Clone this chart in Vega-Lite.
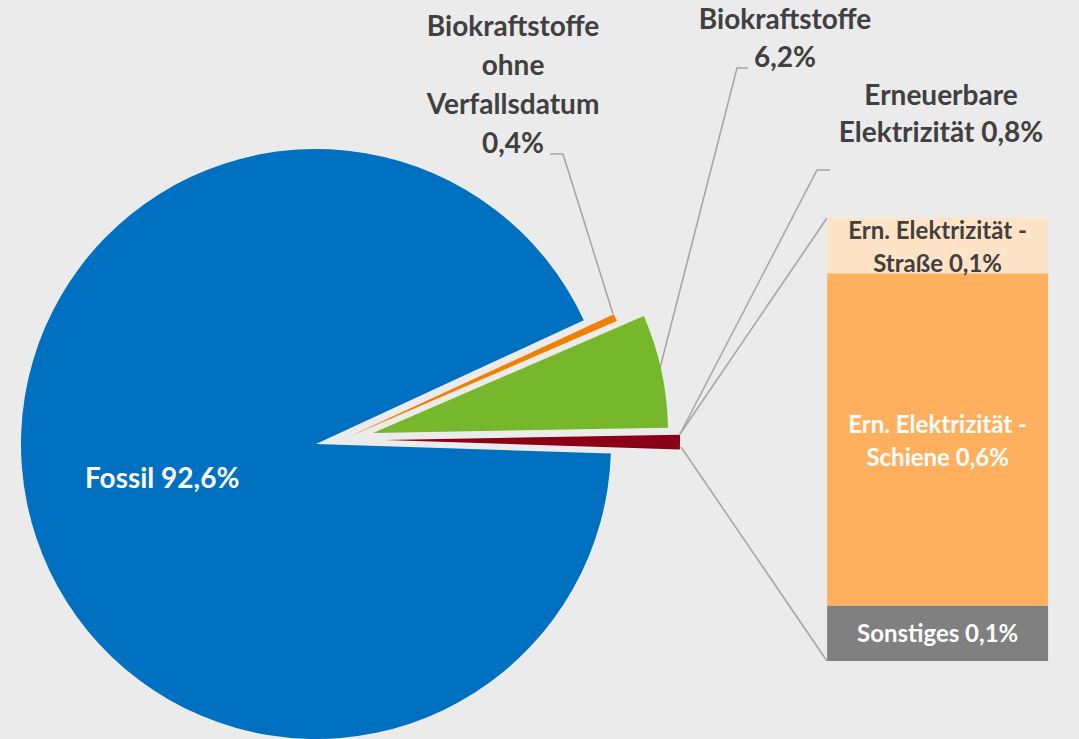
{
  "$schema": "https://vega.github.io/schema/vega-lite/v6.json",
  "width": 1079,
  "height": 739,
  "autosize": {"type": "none"},
  "padding": 0,
  "background": "#ebebeb",
  "config": {"view": {"stroke": null}, "font": "Lato"},
  "datasets": {
    "kuchen": [
      {"Kategorie": "Biokraftstoffe ohne Verfallsdatum", "Anteil": 0.4, "Reihenfolge": 1, "Beschriftung": "Biokraftstoffe\nohne\nVerfallsdatum\n0,4%"},
      {"Kategorie": "Biokraftstoffe", "Anteil": 6.2, "Reihenfolge": 2, "Beschriftung": "Biokraftstoffe\n6,2%"},
      {"Kategorie": "Erneuerbare Elektrizität", "Anteil": 0.8, "Reihenfolge": 3, "Beschriftung": "Erneuerbare\nElektrizität 0,8%"},
      {"Kategorie": "Fossil", "Anteil": 92.6, "Reihenfolge": 4, "Beschriftung": "Fossil 92,6%"}
    ],
    "balken": [
      {"Gruppe": "Erneuerbare Elektrizität", "Kategorie": "Sonstiges", "Anteil": 0.1, "Reihenfolge": 1, "Beschriftung": "Sonstiges 0,1%"},
      {"Gruppe": "Erneuerbare Elektrizität", "Kategorie": "Ern. Elektrizität - Schiene", "Anteil": 0.6, "Reihenfolge": 2, "Beschriftung": "Ern. Elektrizität -\nSchiene 0,6%"},
      {"Gruppe": "Erneuerbare Elektrizität", "Kategorie": "Ern. Elektrizität - Straße", "Anteil": 0.1, "Reihenfolge": 3, "Beschriftung": "Ern. Elektrizität -\nStraße 0,1%"}
    ],
    "hilfslinien": [
      {"Linie": "A", "Punkt": 1, "x": 550, "y": 154},
      {"Linie": "A", "Punkt": 2, "x": 563, "y": 154},
      {"Linie": "A", "Punkt": 3, "x": 613, "y": 314},
      {"Linie": "B", "Punkt": 1, "x": 748, "y": 68},
      {"Linie": "B", "Punkt": 2, "x": 737, "y": 68},
      {"Linie": "B", "Punkt": 3, "x": 660, "y": 368},
      {"Linie": "C", "Punkt": 1, "x": 830, "y": 170},
      {"Linie": "C", "Punkt": 2, "x": 817, "y": 170},
      {"Linie": "C", "Punkt": 3, "x": 680, "y": 434},
      {"Linie": "D", "Punkt": 1, "x": 680, "y": 434},
      {"Linie": "D", "Punkt": 2, "x": 827, "y": 218},
      {"Linie": "E", "Punkt": 1, "x": 681, "y": 447},
      {"Linie": "E", "Punkt": 2, "x": 827, "y": 661}
    ]
  },
  "resolve": {"scale": {"x": "independent", "y": "independent"}},
  "layer": [
    {
      "data": {"name": "hilfslinien"},
      "mark": {"type": "line", "color": "#a6a6a6", "strokeWidth": 1.6},
      "encoding": {
        "x": {"field": "x", "type": "quantitative", "axis": null, "scale": {"domain": [0, 1079], "nice": false, "zero": false}},
        "y": {"field": "y", "type": "quantitative", "axis": null, "scale": {"domain": [0, 739], "reverse": true, "nice": false, "zero": false}},
        "detail": {"field": "Linie", "type": "nominal"},
        "order": {"field": "Punkt", "type": "quantitative"}
      }
    },
    {
      "data": {"name": "kuchen"},
      "transform": [
        {"stack": "Anteil", "groupby": [], "sort": [{"field": "Reihenfolge", "order": "ascending"}], "as": ["a0", "a1"]},
        {"filter": "datum.Kategorie === 'Fossil'"}
      ],
      "mark": {"type": "arc", "outerRadius": 295, "xOffset": -223.5, "yOffset": 74.5},
      "encoding": {
        "theta": {"field": "a0", "type": "quantitative", "stack": null, "scale": {"domain": [0, 100], "range": [1.138, 7.4212]}},
        "theta2": {"field": "a1"},
        "color": {"field": "Kategorie", "type": "nominal", "legend": null, "scale": {"domain": ["Fossil", "Biokraftstoffe ohne Verfallsdatum", "Biokraftstoffe", "Erneuerbare Elektrizität", "Ern. Elektrizität - Straße", "Ern. Elektrizität - Schiene", "Sonstiges"], "range": ["#0070c0", "#f08000", "#77b72b", "#8b0016", "#ffe3c6", "#ffb05f", "#808080"]}}
      }
    },
    {
      "data": {"name": "kuchen"},
      "transform": [
        {"stack": "Anteil", "groupby": [], "sort": [{"field": "Reihenfolge", "order": "ascending"}], "as": ["a0", "a1"]},
        {"filter": "datum.Kategorie === 'Biokraftstoffe ohne Verfallsdatum'"}
      ],
      "mark": {"type": "arc", "outerRadius": 295, "xOffset": -193.5, "yOffset": 68.5},
      "encoding": {
        "theta": {"field": "a0", "type": "quantitative", "stack": null, "scale": {"domain": [0, 100], "range": [1.138, 7.4212]}},
        "theta2": {"field": "a1"},
        "color": {"field": "Kategorie", "type": "nominal", "legend": null}
      }
    },
    {
      "data": {"name": "kuchen"},
      "transform": [
        {"stack": "Anteil", "groupby": [], "sort": [{"field": "Reihenfolge", "order": "ascending"}], "as": ["a0", "a1"]},
        {"filter": "datum.Kategorie === 'Biokraftstoffe'"}
      ],
      "mark": {"type": "arc", "outerRadius": 295, "xOffset": -166.5, "yOffset": 63.5},
      "encoding": {
        "theta": {"field": "a0", "type": "quantitative", "stack": null, "scale": {"domain": [0, 100], "range": [1.138, 7.4212]}},
        "theta2": {"field": "a1"},
        "color": {"field": "Kategorie", "type": "nominal", "legend": null}
      }
    },
    {
      "data": {"name": "kuchen"},
      "transform": [
        {"stack": "Anteil", "groupby": [], "sort": [{"field": "Reihenfolge", "order": "ascending"}], "as": ["a0", "a1"]},
        {"filter": "datum.Kategorie === 'Erneuerbare Elektrizität'"}
      ],
      "mark": {"type": "arc", "outerRadius": 295, "xOffset": -154.5, "yOffset": 70.5},
      "encoding": {
        "theta": {"field": "a0", "type": "quantitative", "stack": null, "scale": {"domain": [0, 100], "range": [1.138, 7.4212]}},
        "theta2": {"field": "a1"},
        "color": {"field": "Kategorie", "type": "nominal", "legend": null}
      }
    },
    {
      "data": {"name": "kuchen"},
      "mark": {"type": "text", "radius": 157, "xOffset": -223.5, "yOffset": 74.5, "dy": 5, "fontSize": 28, "fontWeight": "bold", "font": "Lato", "color": "white", "lineBreak": "\n"},
      "encoding": {
        "theta": {"field": "Anteil", "type": "quantitative", "stack": true, "scale": {"domain": [0, 100], "range": [1.138, 7.4212]}},
        "order": {"field": "Reihenfolge", "type": "quantitative"},
        "text": {"condition": {"test": "datum.Kategorie === 'Fossil'", "field": "Beschriftung"}, "value": ""}
      }
    },
    {
      "data": {"name": "kuchen"},
      "mark": {"type": "text", "radius": 295, "xOffset": -193.5, "yOffset": 68.5, "dx": -102.3, "dy": -290, "fontSize": 28, "lineHeight": 39, "fontWeight": "bold", "font": "Lato", "color": "#404040", "lineBreak": "\n"},
      "encoding": {
        "theta": {"field": "Anteil", "type": "quantitative", "stack": true, "scale": {"domain": [0, 100], "range": [1.138, 7.4212]}},
        "order": {"field": "Reihenfolge", "type": "quantitative"},
        "text": {"condition": {"test": "datum.Kategorie === 'Biokraftstoffe ohne Verfallsdatum'", "field": "Beschriftung"}, "value": ""}
      }
    },
    {
      "data": {"name": "kuchen"},
      "mark": {"type": "text", "radius": 295, "xOffset": -166.5, "yOffset": 63.5, "dx": 123.7, "dy": -349.7, "fontSize": 28, "lineHeight": 38, "fontWeight": "bold", "font": "Lato", "color": "#404040", "lineBreak": "\n"},
      "encoding": {
        "theta": {"field": "Anteil", "type": "quantitative", "stack": true, "scale": {"domain": [0, 100], "range": [1.138, 7.4212]}},
        "order": {"field": "Reihenfolge", "type": "quantitative"},
        "text": {"condition": {"test": "datum.Kategorie === 'Biokraftstoffe'", "field": "Beschriftung"}, "value": ""}
      }
    },
    {
      "data": {"name": "kuchen"},
      "mark": {"type": "text", "radius": 295, "xOffset": -154.5, "yOffset": 70.5, "dx": 261, "dy": -345.1, "fontSize": 28, "lineHeight": 37, "fontWeight": "bold", "font": "Lato", "color": "#404040", "lineBreak": "\n"},
      "encoding": {
        "theta": {"field": "Anteil", "type": "quantitative", "stack": true, "scale": {"domain": [0, 100], "range": [1.138, 7.4212]}},
        "order": {"field": "Reihenfolge", "type": "quantitative"},
        "text": {"condition": {"test": "datum.Kategorie === 'Erneuerbare Elektrizität'", "field": "Beschriftung"}, "value": ""}
      }
    },
    {
      "data": {"name": "balken"},
      "encoding": {
        "x": {"field": "Gruppe", "type": "nominal", "axis": null, "scale": {"paddingInner": 0.4849, "paddingOuter": 1, "align": 0.964}},
        "y": {"field": "Anteil", "type": "quantitative", "stack": "zero", "axis": null, "scale": {"domain": [-0.1409, 1.1937], "nice": false, "zero": false}},
        "order": {"field": "Reihenfolge", "type": "quantitative"}
      },
      "layer": [
        {
          "mark": {"type": "bar"},
          "encoding": {
            "color": {"field": "Kategorie", "type": "nominal", "legend": null}
          }
        },
        {
          "mark": {"type": "text", "fontSize": 24, "lineHeight": 33, "dy": -13.5, "fontWeight": "bold", "font": "Lato", "lineBreak": "\n"},
          "encoding": {
            "y": {"field": "Anteil", "type": "quantitative", "stack": "zero", "bandPosition": 0.5},
            "text": {"condition": {"test": "datum.Kategorie !== 'Sonstiges'", "field": "Beschriftung"}, "value": ""},
            "color": {"condition": {"test": "datum.Kategorie === 'Ern. Elektrizität - Straße'", "value": "#404040"}, "value": "white"}
          }
        },
        {
          "mark": {"type": "text", "fontSize": 24, "dy": 2, "fontWeight": "bold", "font": "Lato", "color": "white"},
          "encoding": {
            "y": {"field": "Anteil", "type": "quantitative", "stack": "zero", "bandPosition": 0.5},
            "text": {"condition": {"test": "datum.Kategorie === 'Sonstiges'", "field": "Beschriftung"}, "value": ""}
          }
        }
      ]
    }
  ]
}
